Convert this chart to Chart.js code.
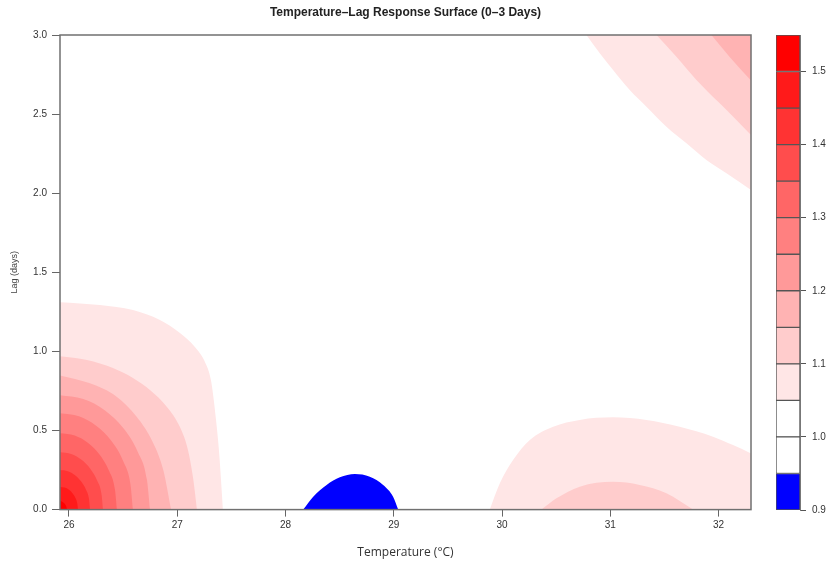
<!DOCTYPE html>
<html>
<head>
<meta charset="utf-8">
<script src="https://cdn.jsdelivr.net/npm/chart.js@4.4.1/dist/chart.umd.min.js"></script>
<style>
  html, body { margin: 0; padding: 0; background: #ffffff; }
  #wrap { position: relative; width: 827px; height: 566px; }
  #main { position: absolute; left: 0; top: 0; }
  #bar { position: absolute; left: 760px; top: 0; }
</style>
</head>
<body>
<div id="wrap">
  <canvas id="main" width="827" height="566"></canvas>
  <canvas id="bar" width="67" height="566"></canvas>
</div>
<script>
// ---- axis ticks ----
const tempTicks = [26, 27, 28, 29, 30, 31, 32];
const lagTicks = [0, 0.5, 1.0, 1.5, 2.0, 2.5, 3.0];
const legendTicks = [0.9, 1.0, 1.1, 1.2, 1.3, 1.4, 1.5];

// ---- colour levels (lower bound of each band) ----
const levels = [0.90, 0.95, 1.00, 1.05, 1.10, 1.15, 1.20, 1.25, 1.30, 1.35, 1.40, 1.45, 1.50, 1.55];
const levelColors = ['#0000FF', '#FFFFFF', '#FFFFFF', '#FFE6E6', '#FFCCCC', '#FFB3B3',
                     '#FF9999', '#FF8080', '#FF6666', '#FF4D4D', '#FF3333', '#FF1A1A', '#FF0000'];

// ---- contour lines: [temperature, lag] ----
// low temperature corner (fill to lag 0)
const low105 = [[25.9,1.312],[26.286,1.293],[26.591,1.261],[26.840,1.198],[27.025,1.116],[27.163,1.028],[27.256,0.933],[27.311,0.819],[27.348,0.630],[27.385,0.377],[27.422,0]];
const low110 = [[25.9,0.971],[26.166,0.946],[26.406,0.895],[26.591,0.832],[26.748,0.756],[26.905,0.649],[27.025,0.522],[27.099,0.377],[27.145,0.206],[27.182,0]];
const low115 = [[25.9,0.851],[26.194,0.798],[26.440,0.714],[26.625,0.587],[26.764,0.440],[26.871,0.250],[26.943,0]];
const low120 = [[25.9,0.724],[26.132,0.699],[26.333,0.627],[26.505,0.512],[26.637,0.362],[26.720,0.188],[26.748,0]];
const low125 = [[25.9,0.611],[26.092,0.590],[26.254,0.529],[26.394,0.432],[26.501,0.306],[26.568,0.158],[26.591,0]];
const low130 = [[25.9,0.484],[26.053,0.468],[26.180,0.419],[26.289,0.342],[26.372,0.242],[26.425,0.125],[26.443,0]];
const low135 = [[25.9,0.364],[26.020,0.352],[26.116,0.315],[26.198,0.257],[26.261,0.182],[26.301,0.094],[26.314,0]];
const low140 = [[25.9,0.251],[25.989,0.242],[26.056,0.217],[26.113,0.177],[26.157,0.126],[26.185,0.065],[26.194,0]];
const low145 = [[25.9,0.144],[25.960,0.139],[26.000,0.125],[26.034,0.102],[26.061,0.072],[26.077,0.037],[26.083,0]];
const low150 = [[25.9,0.061],[25.950,0.043],[25.975,0.020],[25.982,0]];
// high temperature, long lag corner (fill to lag 3)
const top105 = [[30.780,3.0],[30.903,2.884],[31.026,2.779],[31.180,2.652],[31.334,2.547],[31.519,2.420],[31.704,2.315],[31.888,2.210],[32.073,2.126],[32.31,2.015]];
const top110 = [[31.427,3.0],[31.611,2.863],[31.796,2.716],[32.011,2.568],[32.165,2.463],[32.31,2.36]];
const top115 = [[31.934,3.0],[32.103,2.861],[32.31,2.705]];
// high temperature, short lag (fill to lag 0)
const hot105 = [[29.887,0],[29.980,0.166],[30.102,0.313],[30.257,0.440],[30.472,0.524],[30.718,0.567],[31.026,0.583],[31.334,0.567],[31.641,0.524],[31.949,0.461],[32.134,0.408],[32.31,0.352]];
const hot110 = [[30.365,0],[30.503,0.071],[30.718,0.145],[31.026,0.176],[31.272,0.156],[31.519,0.103],[31.765,0]];
// protective region (below 0.95)
const blue095 = [[28.163,0],[28.256,0.082],[28.380,0.156],[28.502,0.204],[28.641,0.225],[28.779,0.208],[28.902,0.156],[28.994,0.082],[29.041,0]];

// ---- build datasets ----
function colorFor(bandIndex) { return levelColors[bandIndex]; }
// band = index into levelColors of the band just above the contour level
const regions = [
  { pts: low105, band: 3, fill: 'start' },
  { pts: low110, band: 4, fill: 'start' },
  { pts: low115, band: 5, fill: 'start' },
  { pts: low120, band: 6, fill: 'start' },
  { pts: low125, band: 7, fill: 'start' },
  { pts: low130, band: 8, fill: 'start' },
  { pts: low135, band: 9, fill: 'start' },
  { pts: low140, band: 10, fill: 'start' },
  { pts: low145, band: 11, fill: 'start' },
  { pts: low150, band: 12, fill: 'start' },
  { pts: top105, band: 3, fill: 'end' },
  { pts: top110, band: 4, fill: 'end' },
  { pts: top115, band: 5, fill: 'end' },
  { pts: hot105, band: 3, fill: 'start' },
  { pts: hot110, band: 4, fill: 'start' },
  { pts: blue095, band: 0, fill: 'start' }
];

const datasets = regions.map(r => ({
  data: r.pts.map(p => ({ x: p[0], y: p[1] })),
  showLine: true,
  fill: r.fill,
  backgroundColor: colorFor(r.band),
  borderColor: colorFor(r.band),
  borderWidth: 0,
  pointRadius: 0,
  cubicInterpolationMode: 'monotone',
  order: 100 - r.band
}));

const boxPlugin = {
  id: 'plotBox',
  afterDatasetsDraw(chart) {
    const a = chart.chartArea;
    const ctx = chart.ctx;
    ctx.save();
    ctx.strokeStyle = '#707070';
    ctx.lineWidth = 1.5;
    ctx.strokeRect(a.left, a.top, a.right - a.left, a.bottom - a.top);
    ctx.restore();
  }
};

Chart.defaults.font.family = "'Liberation Sans', Arial, sans-serif";
Chart.defaults.animation = false;

new Chart(document.getElementById('main'), {
  type: 'scatter',
  data: { datasets },
  plugins: [boxPlugin],
  options: {
    responsive: false,
    devicePixelRatio: 1,
    events: [],
    layout: { padding: { left: 0, right: 76, top: 0, bottom: 0 } },
    plugins: {
      legend: { display: false },
      tooltip: { enabled: false },
      title: {
        display: true,
        fullSize: false,
        text: 'Temperature\u2013Lag Response Surface (0\u20133 Days)',
        color: '#222',
        font: { size: 12, weight: 'bold' },
        padding: { top: 5, bottom: 15.6 }
      }
    },
    scales: {
      x: {
        type: 'linear',
        min: 25.917,
        max: 32.3,
        afterBuildTicks: s => { s.ticks = tempTicks.map(v => ({ value: v })); },
        afterFit: s => { s.height = 56.4; },
        border: { display: false },
        grid: { display: true, drawOnChartArea: false, drawTicks: true, tickLength: 7, color: '#666', lineWidth: 1 },
        ticks: { color: '#333', font: { size: 10 }, padding: 3, maxRotation: 0, callback: v => String(v) },
        title: { display: true, text: 'Temperature (\u00B0C)', color: '#333', font: { family: "'Open Sans', sans-serif", size: 12 }, padding: { top: 0, bottom: 5.8 } }
      },
      y: {
        type: 'linear',
        min: 0,
        max: 3,
        afterBuildTicks: s => { s.ticks = lagTicks.map(v => ({ value: v })); },
        afterFit: s => { s.width = 60; },
        border: { display: false },
        grid: { display: true, drawOnChartArea: false, drawTicks: true, tickLength: 8, color: '#666', lineWidth: 1 },
        ticks: { color: '#333', font: { size: 10 }, padding: 5, callback: v => Number(v).toFixed(1) },
        title: { display: true, text: 'Lag (days)', color: '#444', font: { size: 9 }, padding: { top: 9.6, bottom: 0 } }
      }
    }
  }
});

// ---- colour key ----
const keyDatasets = levelColors.map((c, i) => ({
  data: [[levels[i], levels[i + 1]]],
  backgroundColor: c,
  borderColor: '#555',
  borderWidth: 1,
  borderSkipped: false,
  barPercentage: 1,
  categoryPercentage: 1
}));

new Chart(document.getElementById('bar'), {
  type: 'bar',
  data: { labels: [''], datasets: keyDatasets },
  options: {
    responsive: false,
    devicePixelRatio: 1,
    events: [],
    layout: { padding: { left: 16, right: 0, top: 35, bottom: 56 } },
    plugins: { legend: { display: false }, tooltip: { enabled: false }, title: { display: false } },
    scales: {
      x: { display: false, stacked: true },
      y: {
        position: 'right',
        min: 0.9,
        max: 1.55,
        afterBuildTicks: s => { s.ticks = legendTicks.map(v => ({ value: v })); },
        afterFit: s => { s.width = 27; },
        border: { display: true, color: '#777', width: 1 },
        grid: { display: true, drawOnChartArea: false, drawTicks: true, tickLength: 6, color: '#555', lineWidth: 1 },
        ticks: { color: '#333', font: { size: 10 }, padding: 6, callback: v => Number(v).toFixed(1) }
      }
    }
  }
});
</script>
</body>
</html>
